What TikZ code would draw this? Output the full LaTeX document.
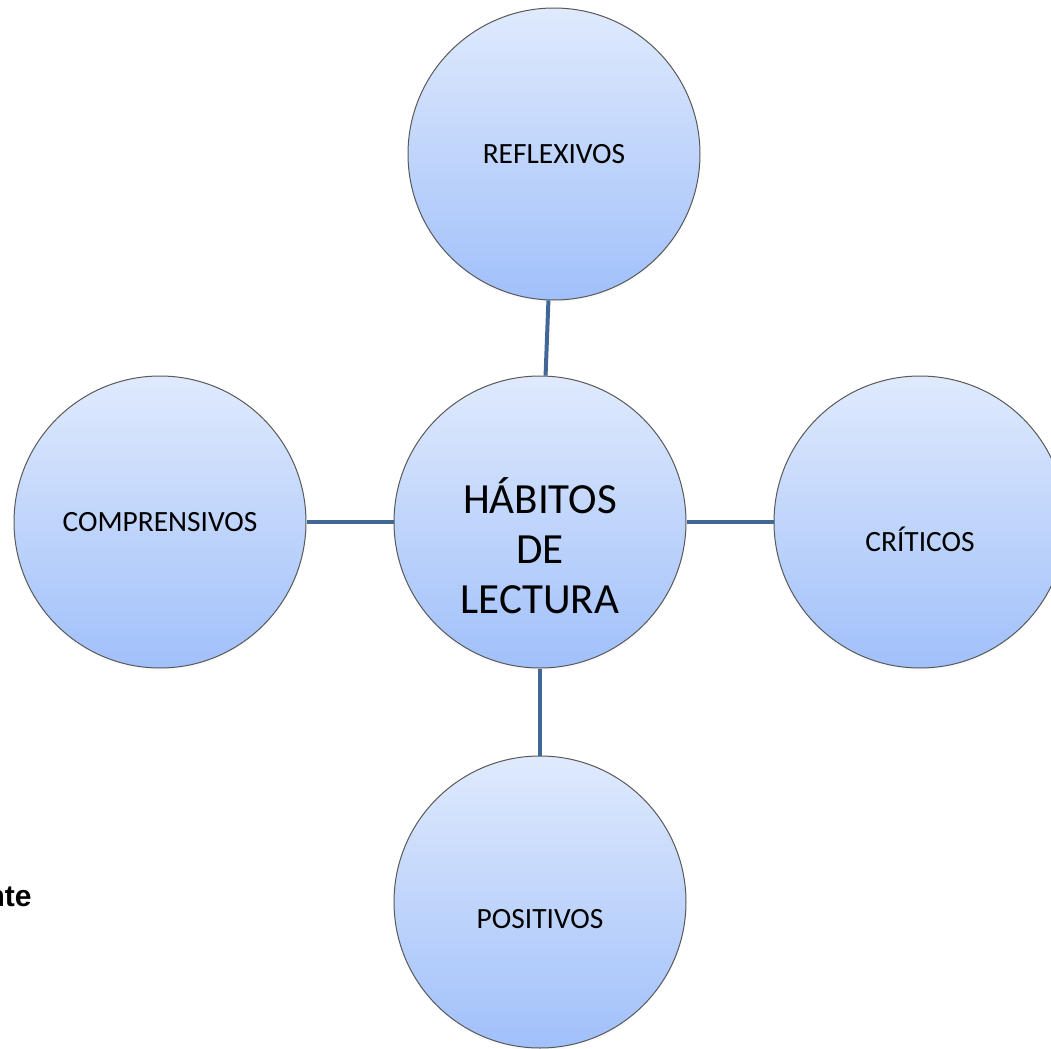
\documentclass[tikz,border=0pt]{standalone}
\usepackage{fontspec}
\setmainfont{Carlito}
\newfontfamily\notafont{Liberation Sans}
\usepackage{tikz}
\usetikzlibrary{positioning, shadows}
\definecolor{bubbletop}{RGB}{223,234,253}
\definecolor{bubblebottom}{RGB}{161,192,250}
\definecolor{linkblue}{RGB}{64,103,150}
\tikzset{
    bubble/.style={
        circle,
        draw=black!65,
        line width=0.5pt,
        minimum size=146pt,
        inner sep=0pt,
        top color=bubbletop,
        bottom color=bubblebottom,
        circular drop shadow={shadow xshift=0pt, shadow yshift=-1.2pt,
            shadow scale=1.005, opacity=0.35}
    },
    bubbletext/.style={
        font=\fontsize{14.7}{18}\selectfont,
        inner sep=0pt
    },
    maintext/.style={
        font=\fontsize{21.5}{25}\selectfont,
        align=center,
        inner sep=0pt
    },
    link/.style={
        draw=linkblue,
        line width=2pt
    }
}

\begin{document}
\begin{tikzpicture}[x=0.5pt, y=-0.5pt]
\useasboundingbox (0,0) rectangle (1051,1049);
\clip (0,0) rectangle (1051,1049);

% Bubbles
\node[bubble] (hab) at (540,522) {};
\node[bubble] (refl) at (554,154) {};
\node[bubble] (comp) at (160,522) {};
\node[bubble] (crit) at (920,522) {};
\node[bubble] (posi) at (540,902) {};

% Connectors
\draw[link] (hab) -- (refl);
\draw[link] (hab) -- (comp);
\draw[link] (hab) -- (crit);
\draw[link] (hab) -- (posi);

% Texts
\node[maintext] (hab-txt) at ([yshift=-12pt]hab.center) {HÁBITOS\\DE\\LECTURA};
\node[bubbletext] (refl-txt) at (refl.center) {REFLEXIVOS};
\node[bubbletext] (comp-txt) at (comp.center) {COMPRENSIVOS};
\node[bubbletext] (crit-txt) at ([yshift=-8.5pt]crit.center) {CRÍTICOS};
\node[bubbletext] (posi-txt) at ([yshift=-8.5pt]posi.center) {POSITIVOS};

% Cut-off text at the left edge
\node[font=\notafont\bfseries\fontsize{15}{18}\selectfont, anchor=base east, inner sep=0pt] (nota) at (32,906) {nte};

\end{tikzpicture}
\end{document}
